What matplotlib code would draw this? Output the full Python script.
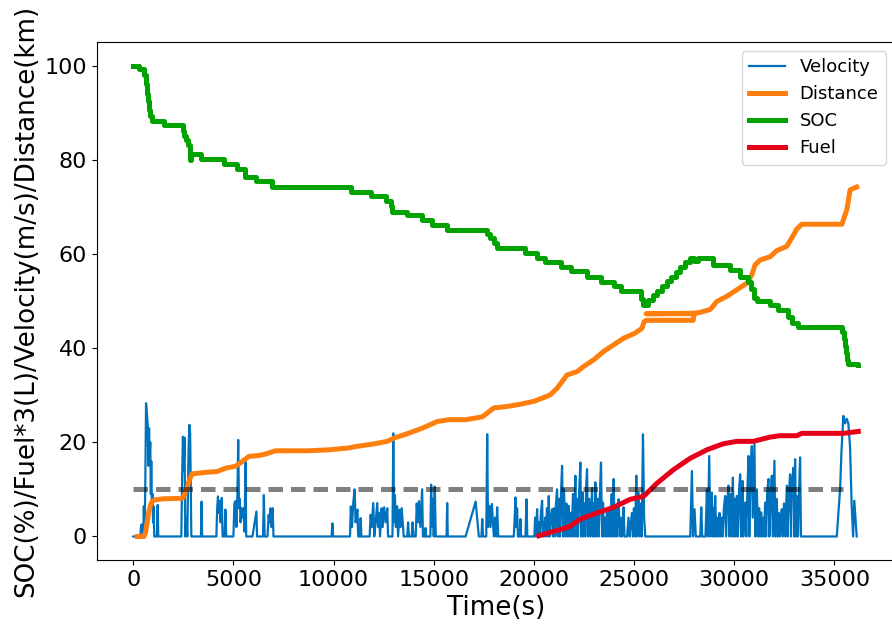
from matplotlib import pyplot as plt

# 行驶过程：速度 / 里程 / SOC / 油耗(*3)

# 速度 (m/s)
vel_t = [0, 350, 400, 460, 500, 530, 560, 600, 640, 680, 720, 760, 790, 820, 850, 880, 900, 930, 960, 990, 1010, 1050,
         1180, 1220, 1250, 2400, 2440, 2480, 2520, 2560, 2600, 2650, 2700, 2760, 2800, 2840, 2870, 2900,
         3380, 3410, 3440, 4150, 4190, 4230, 4280, 4320, 4360, 4420, 4460, 4560, 4600, 4640,
         5000, 5050, 5100, 5150, 5200, 5240, 5280, 5320, 5360, 5400, 5450, 5500, 5560, 5600, 5640,
         5950, 6150, 6180, 6480, 6520, 6560, 6700, 6760, 6800, 6850, 6900, 6960, 7000,
         9900, 9940, 9980, 10820, 10860, 10920, 10980, 11050, 11100, 11190, 11230, 11320, 11350, 11390,
         11800, 11850, 11900, 11980, 12030, 12100, 12180, 12220, 12270, 12320, 12400, 12450, 12520, 12600, 12680, 12720,
         12940, 12980, 13020, 13060, 13110, 13170, 13220, 13300, 13340, 13400, 13450, 13500, 13680, 13720, 13760,
         13900, 13940, 13990, 14100, 14150, 14200, 14260, 14330, 14420, 14460, 14560, 14590, 14620,
         14830, 14870, 14910, 14960, 15000, 15050, 15100, 15640, 15670, 15700, 16590, 17090, 17250,
         17380, 17420, 17460, 17620, 17667, 17710, 17780, 17832, 17900, 17998, 18060, 18120, 18164, 18220,
         18994, 19040, 19077, 19120, 19160, 19200, 19290, 19326, 19360, 19580, 19625, 19670,
         20020, 20060, 20100, 20159, 20200, 20250, 20300, 20350, 20408, 20450, 20500, 20560, 20600, 20650, 20700,
         20740, 20780, 20840, 20906, 20950, 21000, 21060, 21100, 21155, 21200, 21250, 21300, 21350, 21405, 21450,
         21500, 21570, 21620, 21680, 21735, 21780, 21830, 21880, 21950, 22000, 22069, 22110, 22160, 22200, 22260,
         22318, 22360, 22420, 22460, 22520, 22560, 22610, 22651, 22700, 22760, 22820, 22901, 22940, 22990, 23030,
         23065, 23120, 23180, 23230, 23290, 23348, 23400, 23450, 23500, 23560, 23600, 23648, 23700, 23760, 23820,
         23880, 23930, 23979, 24030, 24080, 24130, 24180, 24228, 24280, 24340, 24400, 24440, 24477, 24520, 24600,
         24650, 24720, 24780, 24840, 24895, 24940, 24990, 25050, 25110, 25150, 25224, 25280, 25330, 25380, 25442,
         25500, 25558,
         27802, 27885, 27940, 28016, 28080, 28300, 28350, 28400, 28560, 28600, 28633, 28680, 28749, 28800, 28882,
         28920, 28960, 29000, 29046, 29100, 29150, 29212, 29260, 29300, 29340, 29380, 29420, 29480, 29545, 29590,
         29640, 29711, 29760, 29820, 29870, 29930, 29980, 30030, 30080, 30130, 30180, 30240, 30294, 30340, 30409,
         30450, 30500, 30543, 30600, 30650, 30708, 30750, 30800, 30876, 30920, 31007, 31050, 31126, 31180, 31240,
         31290, 31341, 31390, 31440, 31490, 31540, 31590, 31640, 31705, 31750, 31810, 31874, 31920, 32004, 32050,
         32123, 32170, 32220, 32280, 32330, 32372, 32420, 32480, 32540, 32622, 32660, 32720, 32786, 32830, 32870,
         32951, 33000, 33035, 33080, 33120, 33180, 33230, 33284, 33330, 33370,
         35115, 35280, 35350, 35443, 35530, 35612, 35693, 35776, 35860, 35930, 35990, 36110]
vel_v = [0, 0, 2.5, 2.5, 0, 6.4, 0, 10, 28.3, 26, 24, 15, 23, 17, 20, 9, 16, 6, 9, 3, 6.4, 0,
         0, 6.7, 0, 0, 12, 21.2, 14, 21, 0, 4, 0, 18, 23.7, 22, 12, 0,
         0, 7.4, 0, 0, 6, 8.5, 5, 7.5, 3, 8.2, 0, 0, 5.7, 0,
         0, 7, 7.5, 2, 9, 20.5, 6, 8, 3, 6, 4, 6, 1, 15.9, 0,
         0, 5.3, 0, 0, 8.8, 0, 0, 4.6, 3, 6, 2, 6, 0,
         0, 2.8, 0, 0, 6.4, 2, 7, 10, 3, 5.7, 0, 0, 3.9, 0,
         0, 4.6, 2, 7.1, 0, 3, 7.1, 2, 5, 0, 6, 2, 6.2, 3, 6, 0,
         0, 21.9, 3, 8.8, 2, 6.4, 0, 5.7, 2, 6, 3, 0, 0, 3, 0,
         0, 3, 0, 0, 7, 3, 7.5, 2, 10, 0, 0, 1.8, 0,
         0, 11, 2, 8, 0, 10.6, 0, 0, 7.1, 0, 0, 7.4, 0,
         0, 3.7, 0, 0, 21.7, 2, 6.5, 2, 6.9, 0, 4, 0, 6.2, 0,
         0, 4, 8.3, 2, 6, 0, 0, 3.7, 0, 0, 7.9, 0,
         0, 4, 0, 5.8, 0, 3, 0, 5, 7.6, 0, 0, 4, 0, 6, 0,
         8.6, 0, 4, 5.8, 0, 6, 0, 7, 10, 0, 8, 0, 9, 15, 0,
         10, 0, 7, 0, 6.5, 0, 5, 0, 9, 0, 12.9, 0, 8, 0, 10,
         15.7, 0, 9.4, 0, 7, 0, 11, 14.3, 0, 8, 0, 10.3, 0, 7, 0,
         11.5, 0, 8, 0, 9, 15.7, 0, 7.2, 0, 4, 0, 5.8, 0, 6, 0,
         9, 0, 12.2, 0, 6, 0, 5, 7.9, 0, 4, 0, 3, 6.2, 0, 0,
         0, 4, 0, 3, 5, 0, 6, 0, 12.9, 0, 9.3, 0, 7, 0, 21.7,
         4, 0,
         0, 13.9, 0, 5.8, 0, 0, 6.2, 0, 0, 5, 10, 0, 17.1, 0, 9.3,
         0, 6, 0, 8.6, 0, 4, 0, 5, 0, 3, 4, 0, 6, 8.6, 0,
         7, 10.8, 0, 9, 0, 12.5, 0, 8, 0, 8.6, 0, 10, 13.2, 0, 11.8,
         0, 6, 7.2, 0, 9, 17.1, 0, 12, 19.2, 4, 19.6, 0, 10, 0, 6,
         0, 5.1, 0, 4, 0, 7.2, 0, 9, 12.2, 0, 8, 12.9, 0, 16.1, 0,
         8, 0, 5, 0, 4, 5.8, 0, 7, 0, 10.8, 0, 9, 13.2, 0, 11,
         14.6, 0, 16.4, 0, 8.6, 0, 9, 16.8, 0, 0,
         0, 10, 18, 25.6, 24, 25, 24, 19.2, 6.5, 0, 7.6, 0]

# 行驶里程 (km)，中间一段时间轴有回绕
dist_t = [200, 540, 620, 700, 780, 865, 950, 1115, 1500, 2445, 2550, 2690, 2800, 2940, 3610, 4200, 4600, 5100,
          5430, 5770, 6270, 6600, 7100, 8760, 9770, 10770, 11100, 11930, 12680, 13010, 13600, 14430, 15170,
          15750, 16590, 17420, 17670, 18000, 18660, 19330, 20000, 20490, 20820, 21160, 21650, 22150, 22480,
          22980, 23480, 23980, 24480, 25060, 25390, 25500, 25600, 27950, 28000, 25600, 27970, 28300, 28800,
          29130, 29630, 30130, 30630, 30880, 31040, 31290, 31790, 32120, 32620, 32870, 33120, 33370, 35370,
          35620, 35780, 36110]
dist_v = [0, 0, 1, 3.2, 5.3, 6.7, 7.5, 7.8, 8, 8.1, 8.8, 10.3, 12, 13.3, 13.6, 13.8, 14.5, 14.9,
          15.9, 17, 17.2, 17.5, 18.2, 18.2, 18.4, 18.8, 19.1, 19.6, 20.2, 20.9, 21.7, 23, 24.4,
          24.8, 24.8, 25.4, 26.2, 27.3, 27.6, 28.1, 28.7, 29.5, 30.1, 31.5, 34.3, 35, 36.1,
          37.5, 39.3, 40.7, 42.1, 43.2, 44.2, 45.6, 45.9, 45.9, 47.3, 47.3, 47.4, 47.6, 48.2,
          49.9, 51, 52.4, 53.8, 55.6, 57.7, 58.7, 59.4, 60.7, 61.6, 63.4, 65.3, 66.3, 66.3,
          69.4, 73.6, 74.2]

# SOC (%)，阶梯
soc_t = [0, 300, 560, 620, 680, 720, 780, 860, 950, 1550, 2460, 2550, 2630, 2720, 2850, 2900, 3375, 4535,
         5200, 5600, 6150, 6950, 10850, 11850, 12600, 12850, 12930, 13650, 14430, 14930, 15670, 17670,
         17800, 18000, 18170, 19550, 20150, 20550, 21350, 21850, 22650, 23350, 24000, 24350, 25350, 25450,
         25700, 25930, 26160, 26390, 26620, 26850, 27080, 27310, 27540, 27770, 28000, 28200, 28960, 29790,
         30290, 30700, 30850, 30960, 31130, 31790, 32200, 32700, 32900, 33200, 35400, 35470, 35530, 35580,
         35630, 35700, 36190]
soc_v = [100, 99.2, 98, 96, 94, 92.5, 90.5, 89.2, 88.2, 87.3, 86, 85, 84.2, 83.2, 80, 81.2, 80.2, 79.1,
         78, 76.4, 75.4, 74.3, 73.2, 72.2, 71.2, 70.2, 69, 68.2, 67.2, 66.2, 65.1, 64.3,
         63.4, 62.3, 61.2, 60.2, 59.2, 58.3, 57.2, 56.3, 55.2, 54.1, 53.1, 52.2, 50.5, 49.2,
         50.2, 51.2, 52.2, 53.2, 54.2, 55.2, 56.2, 57.2, 58.2, 59.1, 58.5, 59.1, 57.7, 56.6,
         55.2, 54, 52.5, 50.6, 50.1, 49.2, 48.1, 46.7, 45.3, 44.4, 43.5, 42, 40.5, 39,
         37.5, 36.6, 36.5]

# 油耗*3 (L)
fuel_t = [20240, 20990, 21730, 22320, 23150, 23980, 24810, 25470, 26140, 26970, 27800, 28630, 29460,
          30130, 30950, 31790, 32290, 33120, 33370, 35440, 36190]
fuel_v = [0.15, 1.1, 2, 3.7, 5, 6.2, 7.9, 8.5, 11.3, 14.2, 16.6, 18.4, 19.7,
          20.2, 20.2, 21.1, 21.4, 21.4, 21.9, 21.9, 22.3]

# 参考速度线
ref_t = [0, 35430]
ref_v = [10, 10]

fig = plt.figure(figsize=(8.92, 6.26), dpi=100)
ax = fig.add_axes([0.1087, 0.1054, 0.8944, 0.8275])

ax.plot(vel_t, vel_v, color='#0072bd', lw=1.6, label='Velocity')
ax.plot(dist_t, dist_v, color='#ff7f0e', lw=3.6, label='Distance')
ax.plot(soc_t, soc_v, color='#00a300', lw=3.6, drawstyle='steps-post', label='SOC')
ax.plot(fuel_t, fuel_v, color='#e6001a', lw=3.6, label='Fuel')
ax.plot(ref_t, ref_v, color='k', ls='--', dashes=(2.9, 1.6), lw=3.6, alpha=0.5)

ax.set_xlim(-1810, 38010)
ax.set_ylim(-5, 105)
ax.set_xticks([0, 5000, 10000, 15000, 20000, 25000, 30000, 35000])
ax.tick_params(labelsize=16)

ax.set_xlabel('Time(s)', fontsize=18.8)
ax.set_ylabel('SOC(%)/Fuel*3(L)/Velocity(m/s)/Distance(km)', fontsize=18.8)

ax.legend(loc='upper right', fontsize=13)

fig.savefig('out.png', dpi=100)
